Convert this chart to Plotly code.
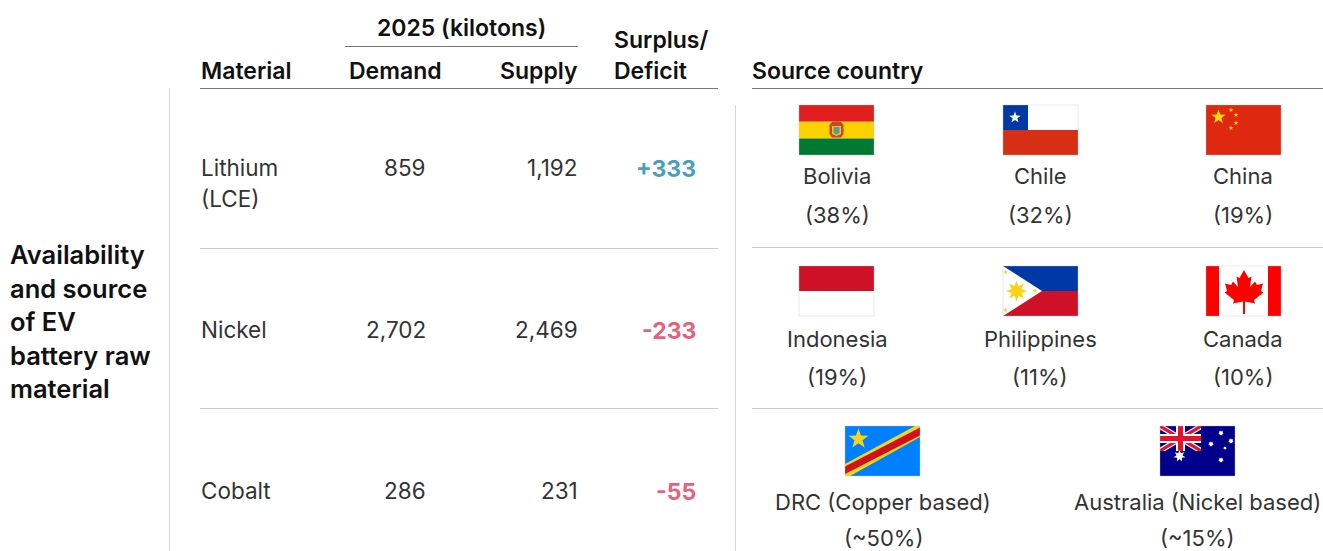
import math
import plotly.graph_objects as go

FONT = "Inter"
materials = ["Lithium<br>(LCE)", "Nickel", "Cobalt"]
demand = ["859", "2,702", "286"]
supply = ["1,192", "2,469", "231"]
balance = ["+333", "-233", "-55"]
balance_colors = ["#4a9fbd", "#e8607b", "#e8607b"]
row_y = [167, 329, 490]
title_lines = ["Availability", "and source", "of EV", "battery raw", "material"]
title_y = [254, 288, 321, 355, 388]
countries = [
    ("Bolivia", "(38%)", 837, 176, 215),
    ("Chile", "(32%)", 1040, 176, 215),
    ("China", "(19%)", 1243, 176, 215),
    ("Indonesia", "(19%)", 837, 339, 377),
    ("Philippines", "(11%)", 1040, 339, 377),
    ("Canada", "(10%)", 1243, 339, 377),
    ("DRC (Copper based)", "(~50%)", 883, 502, 538),
    ("Australia (Nickel based)", "(~15%)", 1197, 502, 538),
]

shapes, annos = [], []
PAD = {"left": -2, "right": 2, "center": 0}


def text(x, y, s, anchor="left", size=22.5, color="#333333", weight=400):
    annos.append(dict(x=x + PAD[anchor], y=y, text=s, xref="x", yref="y", xanchor=anchor, yanchor="middle",
                      showarrow=False, align=anchor,
                      font=dict(family=FONT, size=size, color=color, weight=weight)))


def line(x0, y0, x1, y1, color, w=1):
    shapes.append(dict(type="line", x0=x0, y0=y0, x1=x1, y1=y1, xref="x", yref="y",
                       line=dict(color=color, width=w)))


class Flag:
    def __init__(self, x, y, w=75, h=50):
        self.x, self.y, self.w, self.h = x, y, w, h

    def poly(self, pts, color):
        p = "M" + " L".join(f"{self.x + a:.2f},{self.y + b:.2f}" for a, b in pts) + " Z"
        shapes.append(dict(type="path", path=p, xref="x", yref="y", fillcolor=color,
                           line=dict(width=0)))

    def rect(self, a, b, c, d, color):
        self.poly([(a, b), (c, b), (c, d), (a, d)], color)

    def star(self, cx, cy, r, color, n=5, inner=0.4):
        pts = []
        for i in range(2 * n):
            rr = r if i % 2 == 0 else r * inner
            t = -math.pi / 2 + i * math.pi / n
            pts.append((cx + rr * math.cos(t), cy + rr * math.sin(t)))
        self.poly(pts, color)

    def border(self):
        shapes.append(dict(type="rect", x0=self.x, y0=self.y, x1=self.x + self.w, y1=self.y + self.h,
                           xref="x", yref="y", line=dict(color="rgba(190,190,190,0.35)", width=1)))


# Bolivia
f = Flag(799, 105)
f.rect(0, 0, 75, 16.7, "#e11f1c"); f.rect(0, 16.7, 75, 33.4, "#fdd100"); f.rect(0, 33.4, 75, 50, "#007a33")
f.poly([(30.5, 20), (33, 17), (37.5, 16.5), (42, 17), (44.5, 20), (44.5, 29), (42, 32.5), (33, 32.5), (30.5, 29)], "#c9461f")
f.poly([(33, 21), (42, 21), (42, 29), (37.5, 31), (33, 29)], "#e9c23c")
f.poly([(34.5, 22), (40.5, 22), (40.5, 28), (37.5, 29.5), (34.5, 28)], "#5f9c8a")
f.border()
# Chile
f = Flag(1003, 105)
f.rect(0, 0, 75, 25, "#ffffff"); f.rect(0, 25, 75, 50, "#d72f14"); f.rect(0, 0, 25, 25, "#0039a6")
f.star(12, 12.5, 6, "#ffffff"); f.border()
# China
f = Flag(1206, 105)
f.rect(0, 0, 75, 50, "#de2910"); f.star(12.5, 12, 7.5, "#ffde00")
for a, b in [(25, 5), (30, 10), (30, 18), (25, 23)]:
    f.star(a, b, 2.6, "#ffde00")
f.border()
# Indonesia
f = Flag(799, 266)
f.rect(0, 0, 75, 25, "#ce1126"); f.rect(0, 25, 75, 50, "#ffffff"); f.border()
# Philippines
f = Flag(1003, 266)
f.rect(0, 0, 75, 25, "#0038a8"); f.rect(0, 25, 75, 50, "#ce1126")
f.poly([(0, 0), (39, 25), (0, 50)], "#ffffff")
f.star(13.5, 25, 10.5, "#fcd116", n=8, inner=0.5)
f.star(13.5, 25, 6, "#fcd116", n=8, inner=0.85)
for a, b in [(2.5, 6), (32, 25), (2.5, 44)]:
    f.star(a, b, 2.6, "#fcd116")
f.border()
# Canada
f = Flag(1206, 266)
f.rect(0, 0, 75, 50, "#ffffff"); f.rect(0, 0, 13, 50, "#ff0000"); f.rect(62, 0, 75, 50, "#ff0000")
right = [(38, 4), (42.5, 12), (45.5, 10.5), (44, 21), (49, 15.5), (51, 19), (57, 17.5), (55, 25),
         (57.5, 26.5), (48, 34), (49, 37.5), (39, 35.5), (39, 48)]
left = [(76 - a, b) for a, b in reversed(right[1:])]
f.poly(right + left, "#ff0000"); f.border()
# DRC
f = Flag(845, 426)
f.rect(0, 0, 75, 50, "#007fff")
f.poly([(0, 38), (70, 0), (75, 0), (75, 11), (5, 50), (0, 50)], "#f7d618")
f.poly([(0, 40.5), (75, 1.5), (75, 9.5), (0, 48)], "#ce1021")
f.star(13.5, 13, 10.5, "#f7d618"); f.border()
# Australia
f = Flag(1160, 426)
f.rect(0, 0, 75, 50, "#00008b")
f.poly([(0, 0), (5, 0), (41, 21.5), (41, 25), (36, 25), (0, 3.5)], "#ffffff")
f.poly([(41, 0), (36, 0), (0, 21.5), (0, 25), (5, 25), (41, 3.5)], "#ffffff")
f.poly([(0, 0), (3, 0), (41, 23), (41, 25), (38, 25), (0, 2)], "#e8112d")
f.poly([(41, 0), (38, 0), (0, 23), (0, 25), (3, 25), (41, 2)], "#e8112d")
f.rect(0, 8, 41, 17, "#ffffff"); f.rect(16, 0, 25, 25, "#ffffff")
f.rect(0, 10, 41, 15, "#e8112d"); f.rect(18, 0, 23, 25, "#e8112d")
f.star(19.5, 30, 6, "#ffffff", n=7, inner=0.5)
for a, b, r in [(61, 7, 2.8), (51, 18, 2.8), (71, 15, 2.8), (65, 22, 1.8), (61, 34, 2.8)]:
    f.star(a, b, r, "#ffffff", n=7, inner=0.6)
f.border()

# rules
line(345, 46.5, 578, 46.5, "#777777")
line(200, 88.5, 718, 88.5, "#777777")
line(752, 88.5, 1323, 88.5, "#777777")
for y in [248.5, 408.5]:
    line(200, y, 718, y, "#c9c9c9")
for y in [247.5, 408.5]:
    line(752, y, 1323, y, "#c9c9c9")
line(169.5, 88, 169.5, 551, "#d4d4d4")
line(735.5, 105, 735.5, 551, "#d4d4d4")

# header
H = dict(size=23, color="#111111", weight=600)
text(461, 28, "2025 (kilotons)", "center", **H)
text(201, 71, "Material", **H)
text(349, 71, "Demand", **H)
text(578, 71, "Supply", "right", **H)
text(614, 40, "Surplus/", **H)
text(614, 71, "Deficit", **H)
text(752, 71, "Source country", **H)

for s, y in zip(title_lines, title_y):
    text(10, y, s, size=25.5, color="#111111", weight=600)

for m, d, s, b, c, y in zip(materials, demand, supply, balance, balance_colors, row_y):
    if "<br>" in m:
        a, e = m.split("<br>")
        text(201, y, a); text(201, y + 31, e)
    else:
        text(201, y, m)
    text(426, y, d, "right")
    text(578, y, s, "right")
    text(696, y + 2, b, "right", size=23, color=c, weight=700)

for name, pct, x, y1, y2 in countries:
    text(x, y1, name, "center", size=22)
    text(x, y2, pct, "center", size=22)

fig = go.Figure()
fig.add_trace(go.Scatter(x=[0, 1323], y=[0, 551], mode="markers", marker=dict(opacity=0),
                         hoverinfo="skip", showlegend=False))
fig.update_layout(
    width=1323, height=551, margin=dict(l=0, r=0, t=0, b=0),
    paper_bgcolor="#ffffff", plot_bgcolor="#ffffff", showlegend=False,
    shapes=shapes, annotations=annos,
    xaxis=dict(range=[0, 1323], visible=False, fixedrange=True),
    yaxis=dict(range=[551, 0], visible=False, fixedrange=True),
)
fig.write_html("out.html", config=dict(displayModeBar=False),
               post_script="document.body.style.margin='0';document.body.style.overflow='hidden';")
